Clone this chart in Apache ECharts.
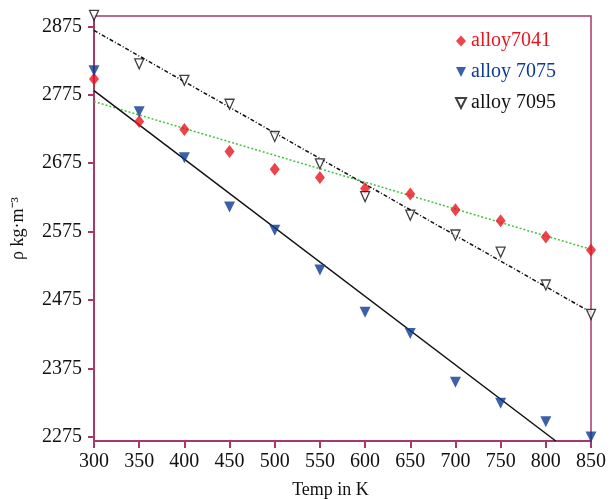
<!DOCTYPE html>
<html><head><meta charset="utf-8">
<script src="https://cdn.jsdelivr.net/npm/echarts@6/dist/echarts.min.js"></script>
<style>html,body{margin:0;padding:0;background:#fff}#c{width:610px;height:499px}</style>
</head><body><div id="c"></div>
<script>
var temps = [300,350,400,450,500,550,600,650,700,750,800,850];
var alloy7041 = [2798,2736,2724,2692,2666,2654,2638,2630,2607,2591,2567,2548];
var alloy7075 = [2810,2750,2683,2611,2577,2519,2457,2426,2355,2324,2297,2275];
var alloy7095 = [2891,2820,2796,2761,2714,2674,2626,2599,2570,2545,2497,2454];
var fit7041 = [[300,2765],[850,2549]];
var fit7075 = [[300,2781],[811,2269]];
var fit7095 = [[300,2869],[850,2457]];
var yTicks = [2275,2375,2475,2575,2675,2775,2875];
var xTicks = [300,350,400,450,500,550,600,650,700,750,800,850];

var axisCol = '#a8386a';
var red = '#e8141e', blue = '#0c3a94', green = '#3cc43c';
var font = 'Liberation Serif';
var downTri = 'path://M0,0 L10,0 L5,10 Z';
function pairs(ys){ return temps.map(function(t,i){return [t, ys[i]];}); }

var chart = echarts.init(document.getElementById('c'));
chart.setOption({
  animation:false,
  grid:{left:94,right:19,top:16,bottom:58,containLabel:false,outerBoundsMode:'none',show:true,borderColor:axisCol,borderWidth:1.5,backgroundColor:'transparent'},
  legend:{
    orient:'vertical', left:450, top:26, itemGap:11, itemWidth:10, itemHeight:11,
    textStyle:{fontFamily:font,fontSize:20},
    data:[
      {name:'alloy7041', textStyle:{color:red}},
      {name:'alloy 7075', icon:downTri, textStyle:{color:blue}},
      {name:'alloy 7095', icon:downTri, textStyle:{color:'#111'}}
    ]
  },
  xAxis:{
    type:'value', min:300, max:850,
    name:'Temp in K', nameLocation:'middle', nameGap:40,
    nameTextStyle:{fontFamily:font,fontSize:18,color:'#111',padding:[0,24,0,0]},
    axisLine:{lineStyle:{color:axisCol,width:2}},
    axisTick:{customValues:xTicks,length:7,lineStyle:{color:axisCol,width:2}},
    axisLabel:{customValues:xTicks,fontFamily:font,fontSize:20,color:'#111',margin:11,formatter:function(v){return String(v);}},
    splitLine:{show:false}
  },
  yAxis:{
    type:'value', min:2269, max:2890,
    name:'ρ kg·m⁻³', nameLocation:'middle', nameGap:67,
    nameTextStyle:{fontFamily:font,fontSize:18,color:'#111'},
    axisLine:{lineStyle:{color:axisCol,width:2}},
    axisTick:{customValues:yTicks,length:6,lineStyle:{color:axisCol,width:2}},
    axisLabel:{customValues:yTicks,fontFamily:font,fontSize:20,color:'#111',margin:12,formatter:function(v){return String(v);}},
    splitLine:{show:false}
  },
  series:[
    {name:'fit7041', type:'line', data:fit7041, symbol:'none', lineStyle:{color:green,width:1.5,type:[2,2]}, z:1},
    {name:'fit7075', type:'line', data:fit7075, symbol:'none', lineStyle:{color:'#111',width:1.5}, z:1},
    {name:'fit7095', type:'line', data:fit7095, symbol:'none', lineStyle:{color:'#111',width:1.5,type:[4,2,1,2]}, z:1},
    {name:'alloy7041', type:'scatter', data:pairs(alloy7041), symbol:'diamond', symbolSize:[10,13], clip:false,
      itemStyle:{color:red}, z:3},
    {name:'alloy 7075', type:'scatter', data:pairs(alloy7075), symbol:'triangle', symbolRotate:180, symbolSize:[11,11], clip:false,
      itemStyle:{color:blue}, z:3},
    {name:'alloy 7095', type:'scatter', data:pairs(alloy7095), symbol:'triangle', symbolRotate:180, symbolSize:[9,10], clip:false,
      itemStyle:{color:'#fff',borderColor:'#111',borderWidth:1.3}, z:3}
  ]
});
</script></body></html>
